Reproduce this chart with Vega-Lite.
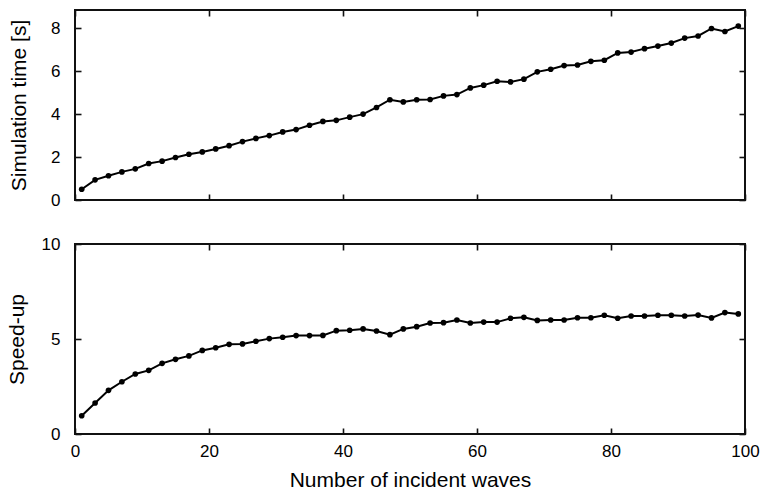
{
  "$schema": "https://vega.github.io/schema/vega-lite/v6.json",
  "padding": {"left": 5, "top": 8, "right": 0, "bottom": 0},
  "spacing": 44,
  "bounds": "flush",
  "config": {
    "font": "Liberation Sans",
    "view": {"stroke": "#111", "strokeWidth": 2},
    "axis": {
      "domain": false,
      "grid": false,
      "tickSize": 6,
      "tickColor": "#111",
      "tickWidth": 1.6,
      "tickOpacity": 1,
      "labelFlush": false,
      "labelFont": "Liberation Sans",
      "labelFontSize": 17,
      "labelColor": "#000",
      "titleFont": "Liberation Sans",
      "titleFontSize": 21,
      "titleFontWeight": "normal",
      "titleColor": "#000"
    }
  },
  "datasets": {
    "d": [
      {"n": 1, "time": 0.50, "speedup": 0.96},
      {"n": 3, "time": 0.94, "speedup": 1.63},
      {"n": 5, "time": 1.13, "speedup": 2.30},
      {"n": 7, "time": 1.31, "speedup": 2.75},
      {"n": 9, "time": 1.45, "speedup": 3.16},
      {"n": 11, "time": 1.70, "speedup": 3.35},
      {"n": 13, "time": 1.81, "speedup": 3.72},
      {"n": 15, "time": 1.98, "speedup": 3.93},
      {"n": 17, "time": 2.13, "speedup": 4.11},
      {"n": 19, "time": 2.24, "speedup": 4.40},
      {"n": 21, "time": 2.38, "speedup": 4.54},
      {"n": 23, "time": 2.53, "speedup": 4.72},
      {"n": 25, "time": 2.72, "speedup": 4.74},
      {"n": 27, "time": 2.87, "speedup": 4.88},
      {"n": 29, "time": 3.00, "speedup": 5.02},
      {"n": 31, "time": 3.17, "speedup": 5.09},
      {"n": 33, "time": 3.28, "speedup": 5.18},
      {"n": 35, "time": 3.48, "speedup": 5.18},
      {"n": 37, "time": 3.66, "speedup": 5.19},
      {"n": 39, "time": 3.71, "speedup": 5.44},
      {"n": 41, "time": 3.86, "speedup": 5.46},
      {"n": 43, "time": 4.00, "speedup": 5.53},
      {"n": 45, "time": 4.31, "speedup": 5.42},
      {"n": 47, "time": 4.67, "speedup": 5.23},
      {"n": 49, "time": 4.57, "speedup": 5.53},
      {"n": 51, "time": 4.67, "speedup": 5.65},
      {"n": 53, "time": 4.68, "speedup": 5.84},
      {"n": 55, "time": 4.85, "speedup": 5.86},
      {"n": 57, "time": 4.91, "speedup": 6.00},
      {"n": 59, "time": 5.22, "speedup": 5.84},
      {"n": 61, "time": 5.35, "speedup": 5.89},
      {"n": 63, "time": 5.53, "speedup": 5.89},
      {"n": 65, "time": 5.50, "speedup": 6.09},
      {"n": 67, "time": 5.63, "speedup": 6.14},
      {"n": 69, "time": 5.97, "speedup": 5.98},
      {"n": 71, "time": 6.09, "speedup": 6.00},
      {"n": 73, "time": 6.26, "speedup": 6.00},
      {"n": 75, "time": 6.29, "speedup": 6.12},
      {"n": 77, "time": 6.46, "speedup": 6.12},
      {"n": 79, "time": 6.51, "speedup": 6.25},
      {"n": 81, "time": 6.85, "speedup": 6.09},
      {"n": 83, "time": 6.89, "speedup": 6.21},
      {"n": 85, "time": 7.05, "speedup": 6.21},
      {"n": 87, "time": 7.17, "speedup": 6.25},
      {"n": 89, "time": 7.31, "speedup": 6.25},
      {"n": 91, "time": 7.54, "speedup": 6.21},
      {"n": 93, "time": 7.64, "speedup": 6.26},
      {"n": 95, "time": 7.99, "speedup": 6.11},
      {"n": 97, "time": 7.85, "speedup": 6.39},
      {"n": 99, "time": 8.10, "speedup": 6.32}
    ]
  },
  "vconcat": [
    {
      "width": 670,
      "height": 190,
      "data": {"name": "d"},
      "layer": [
        {
          "mark": {"type": "line", "color": "#000", "strokeWidth": 2, "point": {"filled": true, "size": 32, "color": "#000"}},
          "encoding": {
            "x": {"field": "n", "type": "quantitative", "scale": {"domain": [0, 100], "nice": false}, "axis": null},
            "y": {"field": "time", "type": "quantitative", "scale": {"domain": [0, 8.85], "nice": false, "zero": false},
                  "axis": {"values": [0, 2, 4, 6, 8], "title": "Simulation time [s]", "ticks": false, "tickSize": 0, "labelPadding": 15, "titlePadding": 21}}
          }
        },
        {
          "mark": {"type": "line", "opacity": 0},
          "encoding": {
            "x": {"field": "n", "type": "quantitative", "axis": {"orient": "top", "offset": -190, "values": [0, 20, 40, 60, 80, 100], "labels": false, "title": null, "ticks": true}},
            "y": {"field": "time", "type": "quantitative", "axis": {"orient": "right", "offset": -670, "values": [0, 2, 4, 6, 8], "labels": false, "title": null, "ticks": true}}
          }
        },
        {
          "mark": {"type": "line", "opacity": 0},
          "encoding": {
            "x": {"field": "n", "type": "quantitative", "axis": {"orient": "bottom", "offset": -190, "values": [0, 20, 40, 60, 80, 100], "labels": false, "title": null, "ticks": true}},
            "y": {"field": "time", "type": "quantitative", "axis": {"orient": "left", "offset": -670, "values": [0, 2, 4, 6, 8], "labels": false, "title": null, "ticks": true}}
          }
        }
      ],
      "resolve": {"axis": {"x": "independent", "y": "independent"}}
    },
    {
      "width": 670,
      "height": 190,
      "data": {"name": "d"},
      "layer": [
        {
          "mark": {"type": "line", "color": "#000", "strokeWidth": 2, "point": {"filled": true, "size": 32, "color": "#000"}},
          "encoding": {
            "x": {"field": "n", "type": "quantitative", "scale": {"domain": [0, 100], "nice": false},
                  "axis": {"values": [0, 20, 40, 60, 80, 100], "title": "Number of incident waves", "ticks": false, "tickSize": 0, "labelPadding": 9, "titlePadding": 10}},
            "y": {"field": "speedup", "type": "quantitative", "scale": {"domain": [0, 10], "nice": false},
                  "axis": {"values": [0, 5, 10], "title": "Speed-up", "ticks": false, "tickSize": 0, "labelPadding": 15, "titlePadding": 14}}
          }
        },
        {
          "mark": {"type": "line", "opacity": 0},
          "encoding": {
            "x": {"field": "n", "type": "quantitative", "axis": {"orient": "top", "offset": -190, "values": [0, 20, 40, 60, 80, 100], "labels": false, "title": null, "ticks": true}},
            "y": {"field": "speedup", "type": "quantitative", "axis": {"orient": "right", "offset": -670, "values": [0, 5, 10], "labels": false, "title": null, "ticks": true}}
          }
        },
        {
          "mark": {"type": "line", "opacity": 0},
          "encoding": {
            "x": {"field": "n", "type": "quantitative", "axis": {"orient": "bottom", "offset": -190, "values": [0, 20, 40, 60, 80, 100], "labels": false, "title": null, "ticks": true}},
            "y": {"field": "speedup", "type": "quantitative", "axis": {"orient": "left", "offset": -670, "values": [0, 5, 10], "labels": false, "title": null, "ticks": true}}
          }
        }
      ],
      "resolve": {"axis": {"x": "independent", "y": "independent"}}
    }
  ]
}
